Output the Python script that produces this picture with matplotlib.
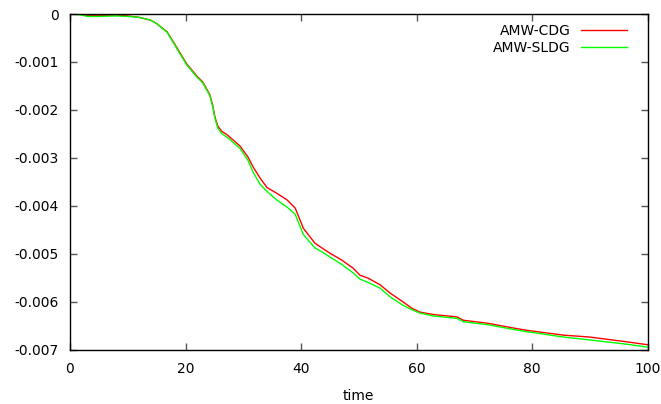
import matplotlib
matplotlib.use("Agg")
import matplotlib.pyplot as plt
from matplotlib.ticker import FixedLocator, FixedFormatter

# Sample times (non-uniform) and the two energy-change series
time = [0, 2, 3, 5, 8, 10, 12, 14, 15, 16.8, 18.5, 20.2, 22, 23, 24.2, 24.7,
        25.1, 25.6, 26.3, 27.2, 29.4, 30.8, 31.7, 32.9, 34.1, 35.8, 37.6, 39,
        40.4, 42.4, 43.6, 45, 47, 49, 50.2, 51.6, 53.7, 55.4, 57.7, 59.2,
        60.6, 62.9, 67, 68.1, 72.2, 76.7, 79.1, 81, 85.4, 90, 96.4, 100]

amw_cdg = [0, -0.00001, -0.00003, -0.00003, -0.00002, -0.00004, -0.00007,
           -0.00013, -0.0002, -0.00037, -0.0007, -0.00104, -0.0013, -0.00142,
           -0.00168, -0.0019, -0.00215, -0.00234, -0.00245, -0.00252,
           -0.00275, -0.00298, -0.00319, -0.00342, -0.00362, -0.00374,
           -0.00388, -0.00405, -0.00447, -0.00478, -0.00488, -0.00499,
           -0.00513, -0.0053, -0.00545, -0.00551, -0.00565, -0.00582,
           -0.00601, -0.00614, -0.00622, -0.00627, -0.00632, -0.00639,
           -0.00645, -0.00655, -0.0066, -0.00663, -0.0067, -0.00674,
           -0.00684, -0.0069]

amw_sldg = [0, -0.00002, -0.00005, -0.00005, -0.00004, -0.00005, -0.00007,
            -0.00013, -0.0002, -0.00038, -0.00072, -0.00106, -0.00132,
            -0.00144, -0.0017, -0.00193, -0.00218, -0.00238, -0.0025,
            -0.00257, -0.0028, -0.00305, -0.0033, -0.00355, -0.0037,
            -0.00388, -0.00403, -0.00418, -0.0046, -0.00488, -0.00496,
            -0.00507, -0.00522, -0.0054, -0.00553, -0.0056, -0.00572,
            -0.0059, -0.00608, -0.00617, -0.00624, -0.0063, -0.00635,
            -0.00642, -0.00648, -0.00658, -0.00663, -0.00666, -0.00674,
            -0.0068, -0.00689, -0.00695]

xticks = [0, 20, 40, 60, 80, 100]
yticks = [0, -0.001, -0.002, -0.003, -0.004, -0.005, -0.006, -0.007]
ytick_labels = ["0", "-0.001", "-0.002", "-0.003", "-0.004", "-0.005",
                "-0.006", "-0.007"]

plt.rcParams["font.family"] = ["DejaVu Sans"]
fig = plt.figure(figsize=(6.61, 4.04), dpi=100)
ax = fig.add_axes([0.1059, 0.1349, 0.8737, 0.8304])

ax.plot(time, amw_cdg, color="#ff0000", lw=1.0, label="AMW-CDG")
ax.plot(time, amw_sldg, color="#00ff00", lw=1.0, label="AMW-SLDG")

ax.set_xlim(0, 100)
ax.set_ylim(-0.007, 0)
ax.xaxis.set_major_locator(FixedLocator(xticks))
ax.yaxis.set_major_locator(FixedLocator(yticks))
ax.yaxis.set_major_formatter(FixedFormatter(ytick_labels))

ax.tick_params(direction="in", length=5, width=1, top=True, right=True,
               labelsize=10, color="#555555")
ax.tick_params(axis="x", pad=9)
ax.tick_params(axis="y", pad=8)
for s in ax.spines.values():
    s.set_linewidth(1.0)
    s.set_color("black")

ax.set_xlabel("time", fontsize=10, labelpad=9)

leg = ax.legend(loc="upper right", bbox_to_anchor=(0.988, 1.012),
                frameon=False, markerfirst=False,
                fontsize=10, handlelength=3.3, handletextpad=0.75,
                labelspacing=0.25, borderaxespad=0.6)

fig.savefig("out.png", dpi=100)
